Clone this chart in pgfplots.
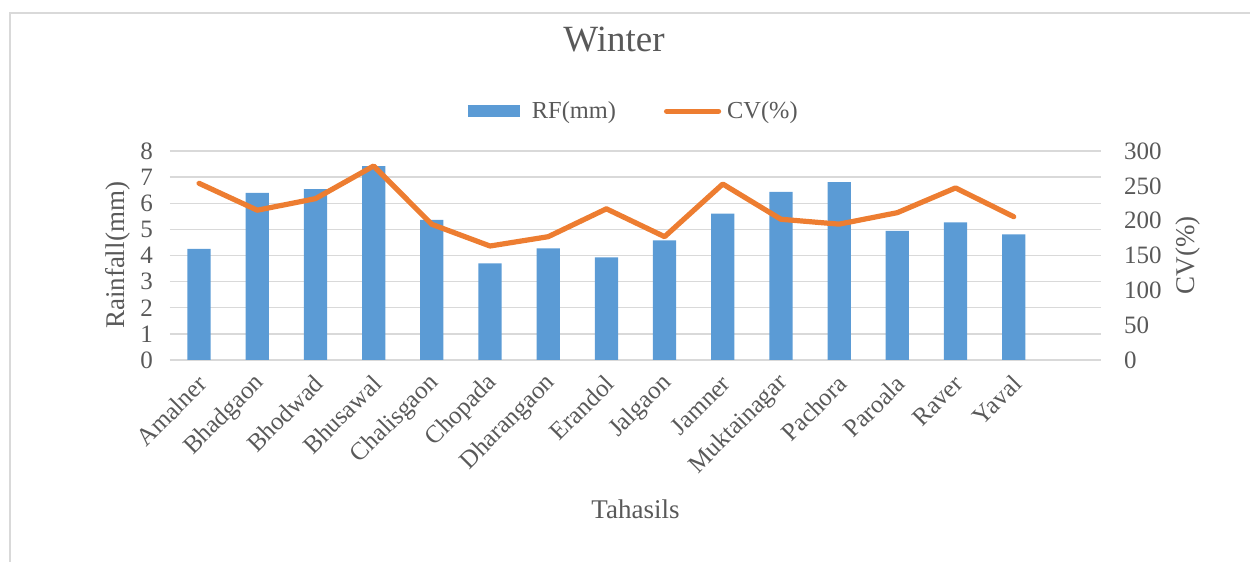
\documentclass[border=0pt]{standalone}
\usepackage{pgfplots}
\pgfplotsset{compat=1.18}
\usepackage{fontspec}
\setmainfont{Liberation Serif}
\definecolor{barblue}{HTML}{5B9BD5}
\definecolor{lineorange}{HTML}{ED7D31}
\definecolor{gridgray}{HTML}{D9D9D9}
\definecolor{txtgray}{HTML}{595959}
\definecolor{framegray}{HTML}{D9D9D9}
\begin{document}
\begin{tikzpicture}
\path[use as bounding box] (0,0) rectangle (625pt,281pt);
\draw[framegray,line width=0.75pt] (5pt,-5pt) -- (5pt,274.5pt) -- (630pt,274.5pt);
\node[text=txtgray,font=\fontsize{18.5}{22}\selectfont] at (307pt,261pt) {Winter};
\begin{axis}[
  at={(85pt,101pt)}, anchor=south west,
  scale only axis, width=465.5pt, height=104.5pt,
  xmin=-0.5, xmax=15.5, ymin=0, ymax=8,
  ytick={0,1,...,8},
  xtick={0,1,...,14},
  xticklabels={Amalner,Bhadgaon,Bhodwad,Bhusawal,Chalisgaon,Chopada,Dharangaon,Erandol,Jalgaon,Jamner,Muktainagar,Pachora,Paroala,Raver,Yaval},
  xticklabel style={xshift=2.5pt, yshift=-9pt, rotate=45, anchor=east, font=\fontsize{12.5}{14}\selectfont, text=txtgray, inner sep=1pt},
  yticklabel style={font=\fontsize{12.5}{14}\selectfont, text=txtgray, xshift=-5pt},
  /pgf/number format/assume math mode=true,
  axis line style={draw=none},
  major tick length=0pt,
  ymajorgrids, grid style={gridgray, line width=0.75pt},
  ylabel={Rainfall(mm)}, xlabel={Tahasils},
  label style={font=\fontsize{13.5}{16}\selectfont, text=txtgray},
  ylabel style={yshift=-2pt},
  xlabel style={yshift=-6pt},
  ybar, bar width=11.6pt,
]
\addplot[fill=barblue, draw=none] coordinates {
(0,4.25) (1,6.40) (2,6.54) (3,7.42) (4,5.36) (5,3.70) (6,4.27) (7,3.93)
(8,4.58) (9,5.60) (10,6.44) (11,6.81) (12,4.94) (13,5.27) (14,4.81)};
\end{axis}
\begin{axis}[
  at={(85pt,101pt)}, anchor=south west,
  scale only axis, width=465.5pt, height=104.5pt,
  xmin=-0.5, xmax=15.5, ymin=0, ymax=300,
  ytick={0,50,...,300},
  xtick=\empty,
  axis y line*=right, axis x line=none,
  axis line style={draw=none},
  major tick length=0pt,
  yticklabel style={font=\fontsize{12.5}{14}\selectfont, text=txtgray, anchor=west, xshift=8pt},
  /pgf/number format/assume math mode=true,
  ylabel={CV(\%)},
  ylabel style={font=\fontsize{13.5}{16}\selectfont, text=txtgray},
  legend columns=2,
  legend style={at={(0.496,1.19)}, anchor=center, draw=none, fill=none,
    font=\fontsize{12.2}{14}\selectfont, text=txtgray,
    /tikz/every odd column/.append style={column sep=1pt},
    /tikz/every even column/.append style={column sep=22pt}},
  legend image code/.code={\draw[#1] (0pt,0pt) -- (26pt,0pt);},
]
\addlegendimage{barblue, line width=6pt}
\addlegendentry{RF(mm)}
\addplot[lineorange, line width=2.6pt, line join=round, line cap=round] coordinates {
(0,253.6) (1,215) (2,231.6) (3,278.5) (4,194.7) (5,163.6) (6,177) (7,217)
(8,177) (9,252.6) (10,202) (11,195) (12,211.5) (13,247) (14,205.7)};
\addlegendentry{CV(\%)}
\end{axis}
\end{tikzpicture}
\end{document}
